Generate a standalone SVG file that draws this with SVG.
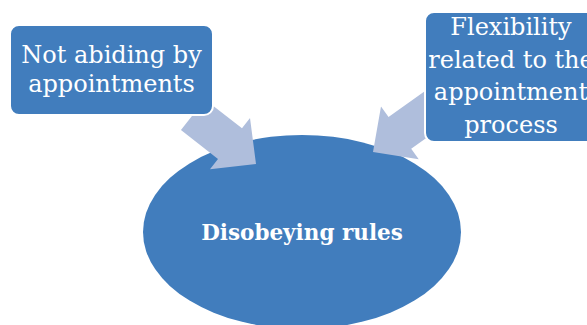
<svg xmlns="http://www.w3.org/2000/svg" width="587" height="325" viewBox="0 0 587 325">
<style>
.box{fill:#417dbd;stroke:#ffffff;stroke-width:2}
.arrow{fill:#afbedc}
.t{font-family:"DejaVu Serif","Liberation Serif",serif;font-size:24px;fill:#ffffff;text-anchor:middle}
.tb{font-family:"DejaVu Serif","Liberation Serif",serif;font-size:21.5px;font-weight:bold;fill:#ffffff;text-anchor:middle}
</style>
<defs>
<path id="blk" d="M0,0 L-33,-32.5 L-33,-19.5 L-80,-19.5 L-80,19.5 L-33,19.5 L-33,32.5 Z"/>
</defs>
<g id="center">
<ellipse cx="302" cy="232" rx="159" ry="97" fill="#417dbd"/>
<text class="tb" x="302" y="240">Disobeying rules</text>
</g>
<g id="connectors">
<use href="#blk" class="arrow" transform="translate(256,164) rotate(38)"/>
<use href="#blk" class="arrow" transform="translate(373,152) rotate(144.5)"/>
</g>
<g id="left">
<rect class="box" x="10" y="25" width="203" height="90" rx="9"/>
<text class="t" x="111.5" y="63">Not abiding by</text>
<text class="t" x="111.5" y="92">appointments</text>
</g>
<g id="right">
<rect class="box" x="425" y="12" width="172" height="130" rx="9"/>
<text class="t" x="511" y="35">Flexibility</text>
<text class="t" x="511" y="68">related to the</text>
<text class="t" x="511" y="100">appointment</text>
<text class="t" x="511" y="133">process</text>
</g>
</svg>
